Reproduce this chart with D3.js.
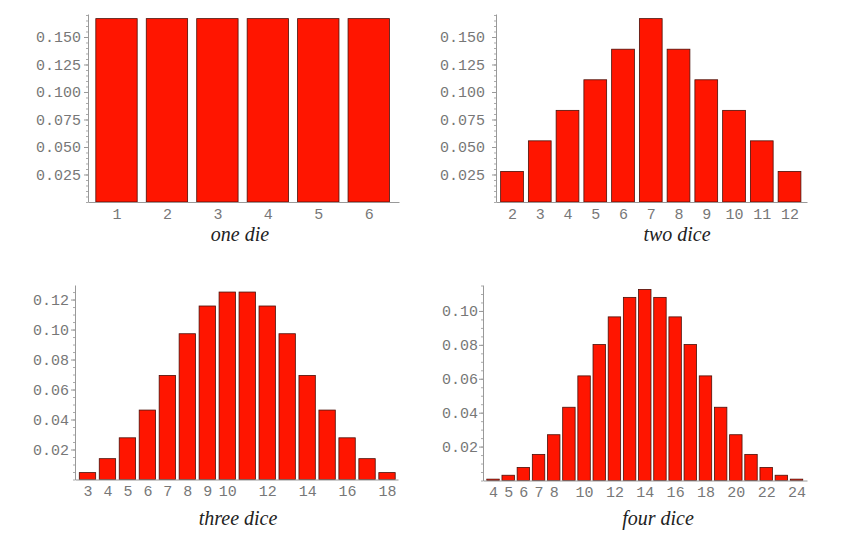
<!DOCTYPE html>
<html lang="en">
<head>
<meta charset="utf-8">
<title>Dice sums</title>
<script src="https://cdn.jsdelivr.net/npm/d3@7"></script>
<style>
  html, body { margin: 0; padding: 0; background: #fff; }
  .tick text { font-family: "Liberation Mono", "DejaVu Sans Mono", monospace; fill: #777; }
  .title { font-family: "Liberation Serif", "DejaVu Serif", serif; font-style: italic; fill: #222; }
</style>
</head>
<body>
<script>
// sums and probabilities
let oneSums = [1, 2, 3, 4, 5, 6];
let oneProbs = [0.1667, 0.1667, 0.1667, 0.1667, 0.1667, 0.1667];

let twoSums = [2, 3, 4, 5, 6, 7, 8, 9, 10, 11, 12];
let twoProbs = [0.0278, 0.0556, 0.0833, 0.1111, 0.1389, 0.1667, 0.1389, 0.1111, 0.0833, 0.0556, 0.0278];

let threeSums = [3, 4, 5, 6, 7, 8, 9, 10, 11, 12, 13, 14, 15, 16, 17, 18];
let threeProbs = [0.0046, 0.0139, 0.0278, 0.0463, 0.0694, 0.0972, 0.1157, 0.125,
                  0.125, 0.1157, 0.0972, 0.0694, 0.0463, 0.0278, 0.0139, 0.0046];

let fourSums = [4, 5, 6, 7, 8, 9, 10, 11, 12, 13, 14, 15, 16, 17, 18, 19, 20, 21, 22, 23, 24];
let fourProbs = [0.0008, 0.0031, 0.0077, 0.0154, 0.0270, 0.0432, 0.0617, 0.0802, 0.0965, 0.1080, 0.1127,
                 0.1080, 0.0965, 0.0802, 0.0617, 0.0432, 0.0270, 0.0154, 0.0077, 0.0031, 0.0008];

// tick labels
let oneXTicks = [1, 2, 3, 4, 5, 6];
let twoXTicks = [2, 3, 4, 5, 6, 7, 8, 9, 10, 11, 12];
let threeXTicks = [3, 4, 5, 6, 7, 8, 9, 10, 12, 14, 16, 18];
let fourXTicks = [4, 5, 6, 7, 8, 10, 12, 14, 16, 18, 20, 22, 24];
let yTicksA = [0.025, 0.050, 0.075, 0.100, 0.125, 0.150];
let yTicksB = [0.02, 0.04, 0.06, 0.08, 0.10, 0.12];
let yTicksC = [0.02, 0.04, 0.06, 0.08, 0.10];

let titles = ["one die", "two dice", "three dice", "four dice"];

let w = 851, h = 534;

let svg = d3.select("body").append("svg")
    .attr("width", w)
    .attr("height", h);

function panel(sums, probs, xTicks, yTicks, fmt, box, title) {
    let g = svg.append("g");

    let x = d3.scaleLinear().domain(box.xd).range([box.left, box.right]);
    let y = d3.scaleLinear().domain([0, box.ymax]).range([box.bottom, box.top]);
    let bw = x(1) - x(0);

    // bars
    g.selectAll("rect")
        .data(sums)
        .enter()
        .append("rect")
        .attr("x", (d) => x(d) - bw * 0.41)
        .attr("y", (d, i) => y(probs[i]))
        .attr("width", bw * 0.82)
        .attr("height", (d, i) => y(0) - y(probs[i]))
        .attr("fill", "#ff1500")
        .attr("stroke", "#4a1008")
        .attr("stroke-width", 0.8);

    // minor ticks on the y axis
    let minor = d3.range(0, box.ymax, box.minor);
    g.append("g")
        .attr("transform", "translate(" + box.left + ",0)")
        .call(d3.axisLeft(y).tickValues(minor).tickSize(2).tickFormat(""))
        .call((a) => a.select(".domain").remove())
        .selectAll("line").attr("stroke", "#aaa");

    // y axis
    let ya = g.append("g")
        .attr("transform", "translate(" + box.left + ",0)")
        .call(d3.axisLeft(y).tickValues(yTicks).tickFormat(d3.format(fmt))
            .tickSize(4).tickSizeOuter(0).tickPadding(box.pad));
    ya.select(".domain").attr("stroke", "#999");
    ya.selectAll("line").attr("stroke", "#999");
    ya.selectAll("text").style("font-size", "15px");

    // x axis
    let xa = g.append("g")
        .attr("transform", "translate(0," + y(0) + ")")
        .call(d3.axisBottom(x).tickValues(xTicks).tickFormat(d3.format("d"))
            .tickSize(0).tickPadding(6));
    xa.select(".domain").attr("stroke", "#999");
    xa.selectAll("text").style("font-size", "15px");

    g.append("text")
        .attr("class", "title")
        .attr("x", box.tx)
        .attr("y", box.ty)
        .attr("text-anchor", "middle")
        .attr("font-size", "20px")
        .text(title);
}

panel(oneSums, oneProbs, oneXTicks, yTicksA, ".3f",
    {xd: [0.435, 6.6], left: 88, right: 399, top: 14, bottom: 202, ymax: 0.1709, minor: 0.005, pad: 3, tx: 240, ty: 241},
    titles[0]);

panel(twoSums, twoProbs, twoXTicks, yTicksA, ".3f",
    {xd: [1.423, 12.63], left: 496, right: 807, top: 14, bottom: 202, ymax: 0.1709, minor: 0.005, pad: 7, tx: 677, ty: 241},
    titles[1]);

panel(threeSums, threeProbs, threeXTicks, yTicksB, ".2f",
    {xd: [2.375, 18.55], left: 75, right: 398, top: 285, bottom: 479.5, ymax: 0.1297, minor: 0.005, pad: 2, tx: 238, ty: 525},
    titles[2]);

panel(fourSums, fourProbs, fourXTicks, yTicksC, ".2f",
    {xd: [3.34, 24.69], left: 483, right: 807, top: 285, bottom: 480.5, ymax: 0.1153, minor: 0.005, pad: 1, tx: 658, ty: 525},
    titles[3]);
</script>
</body>
</html>
